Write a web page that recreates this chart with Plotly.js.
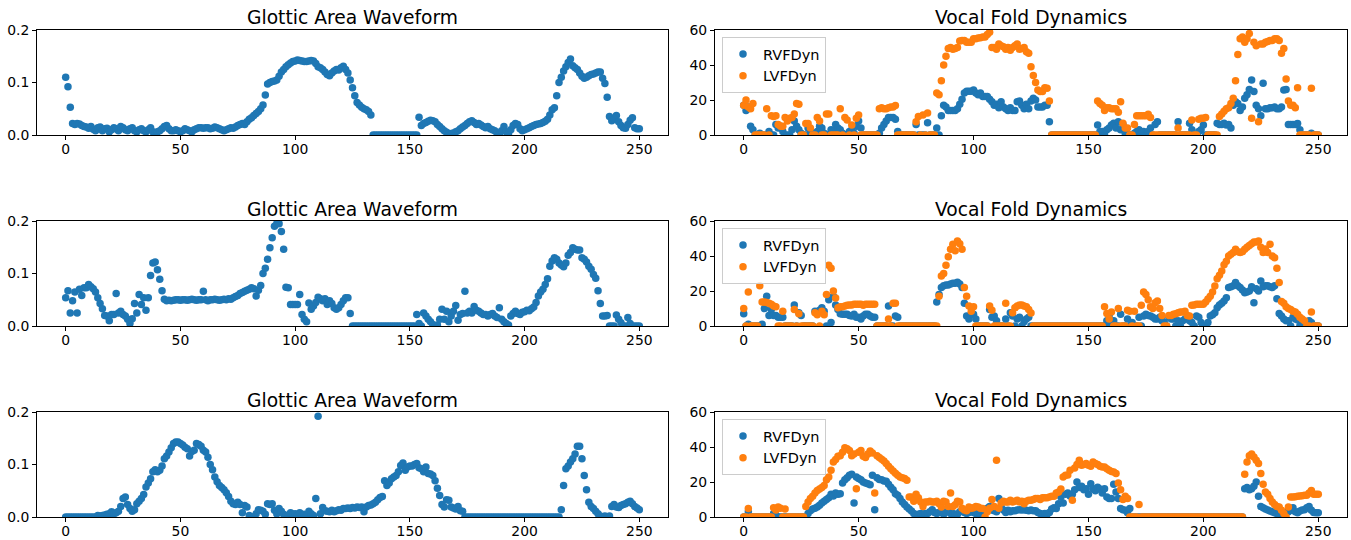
<!DOCTYPE html>
<html>
<head>
<meta charset="utf-8">
<script src="https://cdn.plot.ly/plotly-3.0.1.min.js"></script>
<style>html,body{margin:0;padding:0;background:#fff}#chart{width:1351px;height:540px}</style>
</head>
<body>
<div id="chart"></div>
<script>
// Glottic Area Waveform, row 1
const gaw1 = [
.110,.092,.053,.022,.020,.022,.021,.018,.016,.015,
.013,.016,.011,.008,.014,.015,.008,.012,.013,.006,
.010,.014,.012,.008,.016,.014,.010,.008,.012,.014,
.008,.006,.010,.012,.008,.006,.010,.014,.006,.004,
.006,.008,.012,.016,.018,.012,.008,.008,.010,.008,
.006,.008,.012,.010,.008,.006,.010,.012,.014,.014,
.013,.014,.014,.012,.013,.015,.014,.012,.010,.008,
.010,.012,.014,.013,.015,.018,.020,.022,.020,.025,
.030,.033,.037,.041,.045,.050,.057,.076,.097,.100,
.102,.103,.105,.112,.120,.125,.130,.134,.137,.140,
.141,.143,.142,.141,.140,.140,.141,.142,.141,.136,
.130,.128,.125,.120,.115,.113,.118,.122,.125,.124,
.128,.131,.125,.118,.105,.090,.075,.062,.057,.053,
.050,.048,.045,.038,0,0,0,0,0,0,
0,0,0,0,0,0,0,0,0,0,
0,0,0,0,.034,.018,.022,.024,.026,.028,
.027,.025,.020,.016,.012,.008,.005,.003,.003,.004,
.006,.008,.012,.015,.018,.022,.025,.027,.024,.020,
.022,.019,.016,.014,.016,.012,.010,.008,.004,.002,
.008,.016,.006,.003,.010,.018,.022,.020,.012,.008,
.010,.012,.014,.016,.018,.020,.021,.022,.024,.026,
.030,.038,.048,.052,.075,.100,.110,.122,.130,.138,
.145,.132,.128,.125,.118,.112,.108,.110,.113,.115,
.116,.118,.120,.120,.108,.098,.072,.035,.027,.030,
.037,.025,.018,.014,.013,.020,.028,.033,.014,.012,
.012];
// Glottic Area Waveform, row 2
const gaw2 = [
.054,.067,.025,.048,.065,.025,.070,.058,.073,.073,
.079,.075,.071,.065,.054,.043,.033,.020,.019,.010,
.022,.022,.062,.025,.028,.022,.019,.013,.005,.014,
.043,.025,.060,.041,.054,.030,.054,.096,.120,.122,
.107,.089,.067,.051,.048,.049,.048,.049,.050,.050,
.049,.050,.050,.049,.050,.051,.050,.049,.050,.050,
.066,.050,.048,.050,.050,.051,.050,.049,.050,.051,
.050,.052,.051,.054,.056,.058,.062,.064,.066,.068,
.070,.073,.071,.057,.068,.077,.100,.110,.127,.149,
.168,.190,.195,.195,.180,.146,.074,.073,.041,.041,
.041,.041,.060,.022,.013,.008,.044,.032,.038,.045,
.055,.052,.048,.052,.041,.048,.043,.035,.032,.035,
.041,.048,.054,.054,.024,0,0,0,0,0,
0,0,0,0,0,0,0,0,0,0,
0,0,0,0,0,0,0,0,0,0,
0,0,0,.022,.005,0,.025,.019,.013,.008,
.003,0,.002,.013,.032,.013,.028,.008,.019,.028,
.039,.011,.022,.024,.066,.025,.028,.025,.037,.030,
.028,.025,.022,.022,.019,.022,.024,.019,.016,.035,
.013,.008,.005,.002,.019,.024,.028,.024,.022,.026,
.027,.030,.029,.033,.036,.045,.057,.065,.070,.079,
.090,.114,.124,.130,.127,.120,.116,.113,.120,.135,
.140,.149,.146,.145,.145,.130,.127,.122,.114,.108,
.098,.091,.067,.043,.019,.019,.020,0,0,0,
.021,.013,.006,0,0,.016,.005,0,0,0,
0];
// Glottic Area Waveform, row 3
const gaw3 = [
0,0,0,0,0,0,0,0,0,0,
0,0,0,0,.003,.002,.003,.004,.005,.006,
.010,.006,.008,.011,.020,.035,.038,.024,.016,.011,
.014,.025,.030,.035,.043,.057,.065,.073,.086,.090,
.086,.089,.097,.111,.116,.124,.132,.140,.143,.143,
.140,.137,.133,.130,.116,.125,.127,.140,.138,.135,
.127,.124,.114,.100,.090,.076,.067,.060,.056,.052,
.046,.039,.030,.025,.024,.028,.024,.008,.022,.019,
.003,0,0,.006,.014,.013,.011,.005,.025,.024,
.025,.013,.006,.016,.011,.005,.003,.003,.008,.005,
.006,.003,.008,.003,.005,.003,.011,.006,.003,.035,
.192,.006,.018,.012,.011,.010,.013,.010,.012,.014,
.013,.016,.016,.017,.016,.018,.017,.019,.018,.019,
.010,.019,.022,.023,.025,.028,.033,.037,.039,.069,
.060,.065,.073,.076,.079,.086,.098,.103,.089,.095,
.097,.097,.100,.102,.094,.092,.086,.095,.083,.082,
.079,.069,.055,.041,.024,.019,.033,.032,.019,.017,
.015,.020,.012,.011,0,0,0,0,0,0,
0,0,0,0,0,0,0,0,0,0,
0,0,0,0,0,0,0,0,0,0,
0,0,0,0,0,0,0,0,0,0,
0,0,0,0,0,0,.014,.060,.092,.097,
.105,.111,.120,.135,.135,.111,.079,.052,.028,.020,
.016,.011,.006,.002,0,.002,0,.002,.020,.024,
.019,.018,.022,.024,.025,.028,.030,.025,.020,.017,
.014];
// Vocal Fold Dynamics, row 1
const rvf1 = [
17,14,16,5,3,0,0,1,0,0,
0,2,0,0,6,4,5,2,0,0,
0,3,8,5,3,1,0,0,4,3,
0,0,2,5,4,1,0,0,3,2,
6,4,3,1,0,0,2,3,1,5,
8,4,0,0,0,0,0,0,0,1,
4,6,8,10,10,10,9,2,0,0,
0,0,0,0,0,6,0,0,0,0,
7,0,0,0,4,0,11,17,16,14,
14,14,14,15,17.5,20.5,24,25,25,25,
25.7,24,23,24,22,22,22,20.5,19,17,
17.5,15.6,19,16,15,14,15.6,14,14,19,
19.5,17,15,17.5,15,19.4,21,20,16,16,
16,17,17,7.6,0,0,0,0,0,0,
0,0,0,0,0,0,0,0,0,0,
0,0,0,0,5.7,2,2,0,3,4,
5.7,6.7,4,7.6,3,6,1,0,0,0,
1,2,3,1,2,0,2,4,0,6,
7.6,0,0,0,0,0,0,0,0,7.6,
0,0,0,0,6.7,3,0,0,2,3,
5.7,0,0,0,0,0,6.7,6,6,6.7,
5.7,6,4,17,19,18,14,16,21,23,
26,31.4,24.8,17,15,11,29.5,15,15,15.5,
15.5,16,15,15,16,25.7,26,6,6,6,
6,6.5,3,0,0,0,0,1,0,0,
0];
const lvf1 = [
17,20,16,15,18,0,0,0,0,0,
15,0,11,10.5,11,6,5,5,10,8,
9.5,10,12,18,17.5,0,0,6.5,6.5,4,
0,0,10,8,0,0,12,12,0,0,
0,0,15,0,10,8.5,0,5.7,0,9.5,
11.4,0,0,0,0,0,0,0,0,15,
15.6,15,15,15.6,16,16,16.8,0,0,0,
0,0,0,0,0,7.6,10.5,0,11.4,0,
12.5,0,0,0,24,23,31,40,45,49.5,
50,49,49.5,50,53.7,54,54,53,53,53,
55,55,55.5,55.6,56,56,57.5,58.7,50,50,
49,52,51,50.5,49,50,48.5,50,51,52,
49,49.5,50,47.6,46.7,39,34,30,25.7,24.8,
24.8,27,26.7,19.4,0,0,0,0,0,0,
0,0,0,0,0,0,0,0,0,0,
0,0,0,0,19.4,18,17,14,15.6,15.6,
15,15,15,13,19,6.7,4,4,0,0,
6,11,11,11,11,11,11.8,10,0,0,
0,0,0,0,0,0,0,0,0,4,
0,0,0,0,0,8.5,0,0,9,9.5,
9.5,10,0,0,0,0,0,10.5,12,13.5,
15,15.6,18,21,31,46,55,56,53,55,
58,9.5,53,51,7.6,52,52,53,53.5,54,
54,55,55,54,46.7,49.5,32,19.4,17,17,
15.6,27,0,0,0,0,0,26.7,0,0,
0];
// Vocal Fold Dynamics, row 2
const rvf2 = [
7,0,1,0,0,0,0,0,1,10,
17,6,9.5,6,6,5,5,5,0,0,
0,0,12,0,7.6,6,0,0,0,0,
0,8.5,8,9,10.5,8.5,0,15,2,17,
12,9.5,7,6.7,6.7,6.7,6,5.7,6.7,5,
5,4,5.7,6.7,6.7,5.7,5,5,0,0,
0,0,0,11.4,0,0,5.7,5,0,0,
0,0,0,0,0,0,0,0,0,0,
0,0,0,0,13.7,18,22,23,23.5,23.5,
24,24.4,24.5,25,24,22,13,5.7,4,6.7,
6.7,4,0,0,0,0,0,9.5,5,5.7,
3,0,0,0,4,0,7.6,5.7,0,4,
5,0,2.5,4,5,0,0,0,0,0,
0,0,0,0,0,0,0,0,0,0,
0,0,0,0,0,0,0,0,0,0,
0,0,0,0,0,0,0,0,3,6,
0,3,0,0,6.7,0,0,4,0,2,
0,0,5,0,5.7,6.7,6,5.7,5,4,
4,5,3,2,0,5,4,4,0,3,
0,3,4,5,3,2,0,5.7,5,2,
0,0,2,5.7,6.5,7.6,10.5,12,13,14.3,
16.2,22,22.5,23,24.8,23,22,20.6,19,19.5,
20,22.5,13.3,21.3,20,25.7,22.5,23,23,22.5,
22,23,15.6,7.2,5.7,4,3,3,0,5,
4,3.5,0,2,0,0,3,2,0,0,
0];
const lvf2 = [
10,0,19.4,0,0,0,0,23,13.7,13.7,
13.5,13,12.5,11.4,11,0,0,8.5,0,0,
0,0,9.5,0,7,0,0,0,0,0,
0,7.6,6.5,0,8.5,6.5,18,34.7,33,20,
16,10.5,11,11,11.5,11.8,12,12,12.4,12.4,
12.5,12.5,11.8,12.5,12.5,12.4,12.4,12.4,0,0,
0,0,0,4,0,13,13,0,0,0,
0,0,0,0,0,0,0,0,0,0,
0,0,0,0,0,17,28.6,30,34.7,39.6,
43.8,46.7,43,48.6,47,43.8,22,17,11.4,8.5,
11,0,0,0,0,0,0,11.4,9,0,
0,0,0,0,13,0,0,7.6,10.5,11.5,
12,12,11.4,11,9.5,7.5,0,0,0,0,
0,0,0,0,0,0,0,0,0,0,
0,0,0,0,0,0,0,0,0,0,
0,0,0,0,0,0,0,11,7.2,4,
8,0,0,10,0,0,0,9,8.5,0,
8.5,0,0,11.8,19.4,18,15,11,10,13.3,
14.3,10,6,0,0,6,6,6.7,7,7.6,
8,8,8.5,6,5.7,11.8,12,12.4,12.4,12.4,
12.4,13.7,15.5,17,19.4,22.8,27,29,31.4,35,
37,40,41,42,43.8,42.5,42,42.5,43.8,45,
46,47,48,48,48.6,45,42,44,42,46.7,
40,39,33,24.8,14,13,11,10,9.5,8.5,
8,6.7,5,4,3,0,0,8,0,0,
0];
// Vocal Fold Dynamics, row 3
const rvf3 = [
0,0,3,0,0,0,0,0,0,0,
0,0,0,2,1,0,0,0,0,0,
0,0,0,0,0,0,0,0,2,3.5,
4.5,5,5.7,6.7,8,9,10,11,13,12,
13.7,13,13.3,19.4,21.3,22.5,23.8,24.4,8,22.8,
22,21.3,20,19.4,19,18.5,23.8,4.2,22.5,21.5,
21.3,20.6,20.5,18.7,17,15.6,13.3,12.4,10.5,8.5,
7.2,5.7,4.5,3.4,2,1,1.5,2,1.5,2,
2,3,4.2,2.5,2,2.5,3,1.5,3,3.5,
2,2,1.5,1.5,3,3.5,2.5,2,2.5,3.5,
2.5,2,2,1.8,2,3.5,5,6,4,3.5,
3,10.5,5.7,4,2.5,3.8,3,3.5,3.5,4,
4.2,4,4.2,3.8,3.5,4,3.5,3.5,2.5,2,
1.5,2,1.5,2.5,4.5,5.3,4.8,7.6,11.4,8,
13,13.7,12,13,15.6,20,16.8,17.5,15.6,16.2,
13,19,16.2,15,17,16,13.7,16.2,11.4,10.5,
10.5,18.7,14.3,10.5,4.8,4.2,3.8,2.4,4.8,0,
0,0,0,0,0,0,0,0,0,0,
0,0,0,0,0,0,0,0,0,0,
0,0,0,0,0,0,0,0,0,0,
0,0,0,0,0,0,0,0,0,0,
0,0,0,0,0,0,0,0,16.2,16.8,
15.6,16.2,17.5,20,11.8,6,5.3,4.5,4,3.4,
3,2.4,2,2,2.4,2,2.5,3,3.8,5.3,
3,2.4,3.4,4,4.2,5.3,6,3.8,2.5,2.4,
2.4];
const lvf3 = [
0,0,4.8,0,0,0,0,0,0,0,
0,0,0,5.3,4,5.7,5,0,4.5,0,
0,0,0,0,0,0,0,6,8.5,10.5,
11.8,13.7,15.2,16,16.8,18,21.3,22.8,26.7,31.4,
32.8,34.7,35,37,39.6,39,38,35,36,16.2,
37,38,34.7,34,36,37.7,36.6,13.7,35,34,
33,32,30.5,29,27.6,26.3,25,23.8,22.8,22.5,
22,21,11.4,11.4,9,13,11,8.5,6,8.5,
8.5,9,8.5,8.5,9,7.5,5.7,9,8.5,6,
13.7,6,7,9,8.5,5,4,3.5,5.7,5,
5.3,6,5.7,5,4.8,0,3,5,10,6,
32.4,5,8,9,8.5,8.5,9.5,8.5,9,9.5,
8.5,9,7.6,9,9.5,9.5,10,10.5,10.5,10,
11,11,11,11.4,11.8,11.8,13.7,14.3,16,22.8,
23.8,24,26.7,9.5,28,30,32.4,29.5,30,30.5,
29.5,29,31.4,30.5,30,29,28.6,28.6,27.6,26.7,
26,25.7,24.8,19.4,15.6,10,11.8,10.5,0,0,
0,0,7.2,0,0,0,0,0,0,0,
0,0,0,0,0,0,0,0,0,0,
0,0,0,0,0,0,0,0,0,0,
0,0,0,0,0,0,0,0,0,0,
0,0,0,0,0,0,0,0,24.4,31.4,
35,36,34.3,32.4,30.5,24.8,18.7,14.3,13,10.5,
8.5,7.2,6,5.7,3.8,2,0,5.7,11.4,11.4,
11.5,11.8,12,12.2,12.4,12.4,13.7,15.2,13,13,
13];

const leftTitle = 'Glottic Area Waveform';
const rightTitle = 'Vocal Fold Dynamics';
const seriesNames = ['RVFDyn', 'LVFDyn'];
const xTicks = [0, 50, 100, 150, 200, 250];
const gawTicks = [0, 0.1, 0.2];
const vfdTicks = [0, 20, 40, 60];

const frames = gaw1.map((_, i) => i);
const BLUE = '#1f77b4', ORANGE = '#ff7f0e';
const FONT = 'DejaVu Sans, Liberation Sans, sans-serif';
const W = 1351, H = 540;

const mk = (color) => ({color: color, size: 7.5, line: {width: 0}});
const traces = [];
const gaws = [gaw1, gaw2, gaw3];
const rv = [rvf1, rvf2, rvf3];
const lv = [lvf1, lvf2, lvf3];
for (let r = 0; r < 3; r++) {
  const nl = r * 2 + 1, nr = r * 2 + 2;
  const xl = nl === 1 ? 'x' : 'x' + nl;
  const yl = nl === 1 ? 'y' : 'y' + nl;
  const xr = 'x' + nr, yr = 'y' + nr;
  const leg = r === 0 ? 'legend' : 'legend' + (r + 1);
  traces.push({x: frames, y: gaws[r], type: 'scatter', mode: 'markers', marker: mk(BLUE), xaxis: xl, yaxis: yl, showlegend: false});
  traces.push({x: frames, y: rv[r], type: 'scatter', mode: 'markers', marker: mk(BLUE), xaxis: xr, yaxis: yr, name: seriesNames[0], legend: leg, showlegend: true});
  traces.push({x: frames, y: lv[r], type: 'scatter', mode: 'markers', marker: mk(ORANGE), xaxis: xr, yaxis: yr, name: seriesNames[1], legend: leg, showlegend: true});
}

const leftDom = [37 / W, 668 / W];
const rightDom = [715 / W, 1347 / W];
const rowsPx = [[30, 135], [221, 326], [412, 517]];
const yDom = (t, b) => [1 - b / H, 1 - t / H];

const axBase = {
  showline: true, mirror: true, linecolor: '#000', linewidth: 1,
  ticks: 'outside', ticklen: 4, tickwidth: 1, tickcolor: '#000',
  showgrid: false, zeroline: false,
  tickfont: {family: FONT, size: 13.9, color: '#000'}, fixedrange: true
};

const layout = {
  width: W, height: H,
  margin: {l: 0, r: 0, t: 0, b: 0},
  paper_bgcolor: '#fff', plot_bgcolor: '#fff',
  font: {family: FONT, color: '#000'},
  annotations: [],
  hovermode: 'closest'
};

for (let r = 0; r < 3; r++) {
  const nl = r * 2 + 1, nr = r * 2 + 2;
  const kxl = nl === 1 ? 'xaxis' : 'xaxis' + nl;
  const kyl = nl === 1 ? 'yaxis' : 'yaxis' + nl;
  const dom = yDom(rowsPx[r][0], rowsPx[r][1]);
  const xExtra = {range: [-12.5, 262.5], tickvals: xTicks, ticklabelstandoff: -3};
  layout[kxl] = Object.assign({}, axBase, xExtra, {domain: leftDom, anchor: nl === 1 ? 'y' : 'y' + nl});
  layout[kyl] = Object.assign({}, axBase, {domain: dom, anchor: nl === 1 ? 'x' : 'x' + nl, range: [0, 0.2], tickvals: gawTicks, ticktext: gawTicks.map(v => v.toFixed(1))});
  layout['xaxis' + nr] = Object.assign({}, axBase, xExtra, {domain: rightDom, anchor: 'y' + nr});
  layout['yaxis' + nr] = Object.assign({}, axBase, {domain: dom, anchor: 'x' + nr, range: [0, 60], tickvals: vfdTicks});
  const ty = 1 - (rowsPx[r][0] - 12) / H;
  layout.annotations.push({text: leftTitle, xref: 'paper', yref: 'paper', x: (leftDom[0] + leftDom[1]) / 2, y: ty, xanchor: 'center', yanchor: 'middle', showarrow: false, font: {family: FONT, size: 18.7, color: '#000'}});
  layout.annotations.push({text: rightTitle, xref: 'paper', yref: 'paper', x: (rightDom[0] + rightDom[1]) / 2, y: ty, xanchor: 'center', yanchor: 'middle', showarrow: false, font: {family: FONT, size: 18.7, color: '#000'}});
  const legKey = r === 0 ? 'legend' : 'legend' + (r + 1);
  layout[legKey] = {
    x: 722 / W, y: 1 - (rowsPx[r][0] + 7) / H, xanchor: 'left', yanchor: 'top',
    bgcolor: 'rgba(255,255,255,0.8)', bordercolor: '#cccccc', borderwidth: 1,
    font: {family: FONT, size: 14.5, color: '#000'}, tracegroupgap: 0
  };
}

Plotly.newPlot('chart', traces, layout, {displayModeBar: false, staticPlot: true});
</script>
</body>
</html>
